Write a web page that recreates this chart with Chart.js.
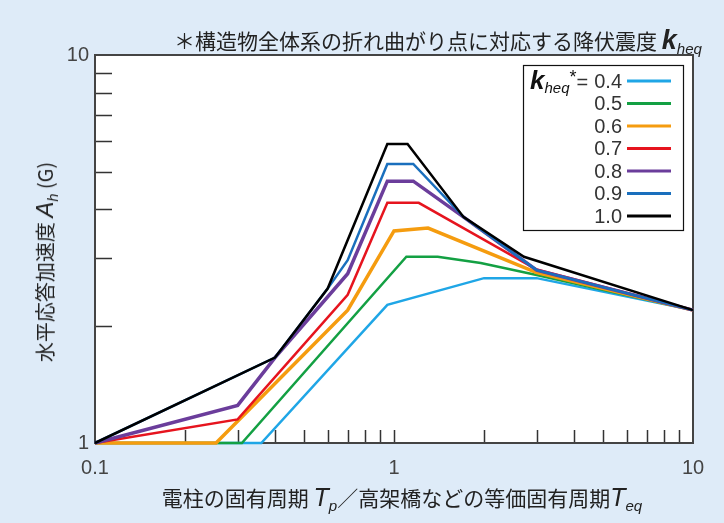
<!DOCTYPE html>
<html lang="ja">
<head>
<meta charset="utf-8">
<title>水平応答加速度</title>
<script src="https://cdn.jsdelivr.net/npm/chart.js@4.4.1/dist/chart.umd.min.js"></script>
<style>
  body { margin: 0; background: #deebf8; }
  #wrap { position: relative; width: 724px; height: 523px; overflow: hidden; background: #deebf8; }
  canvas { position: absolute; left: 0; top: 0; }
  .lbl { position: absolute; white-space: nowrap; font-family: "Noto Sans CJK JP", sans-serif; color: #222; line-height: 1; }
  .it { font-family: "Liberation Sans", Arial, sans-serif; font-style: italic; }
  sub { font-size: 0.72em; vertical-align: baseline; position: relative; top: 0.32em; }
  #title { right: 22px; top: 27px; font-size: 21px; }
  #title .k { font-size: 27px; font-weight: bold; }
  #ylab { left: 45px; top: 262px; font-size: 20px; transform: translate(-50%, -50%) rotate(-90deg); }
  #ylab .A { font-size: 24px; }
  #xlab { left: 402px; top: 497px; font-size: 21px; transform: translate(-50%, -50%); }
  #xlab .T { font-size: 25px; }
</style>
</head>
<body>
<div id="wrap">
  <canvas id="chart" width="724" height="523"></canvas>
  <div class="lbl" id="title">＊構造物全体系の折れ曲がり点に対応する降伏震度 <span class="it k">k</span><sub class="it">heq</sub></div>
  <div class="lbl" id="ylab">水平応答加速度 <span class="it A">A</span><sub class="it">h</sub> (G)</div>
  <div class="lbl" id="xlab">電柱の固有周期 <span class="it T">T</span><sub class="it">p</sub>／高架橋などの等価固有周期<span class="it T">T</span><sub class="it">eq</sub></div>
</div>

<script>
// k_heq values and styles
const kLabels = ['0.4', '0.5', '0.6', '0.7', '0.8', '0.9', '1.0'];
const lineColors = ['#1fa6e6', '#13a043', '#f59c0f', '#e6141e', '#6b3d9b', '#1a6fbd', '#000000'];
const lineWidths = [2.5, 2.5, 3.5, 2.5, 3.5, 2.5, 2.5];

// period T (s) / response acceleration Ah (G)
const period04 = [0.1, 0.36, 0.95, 2.0, 3.0, 10];
const accel04  = [1, 1, 2.27, 2.66, 2.66, 2.2];
const period05 = [0.1, 0.31, 1.1, 1.4, 1.95, 3.0, 10];
const accel05  = [1, 1, 3.02, 3.02, 2.91, 2.71, 2.2];
const period06 = [0.1, 0.254, 0.7, 1.0, 1.3, 3.0, 10];
const accel06  = [1, 1, 2.2, 3.52, 3.58, 2.75, 2.2];
const period07 = [0.1, 0.3, 0.7, 0.95, 1.21, 3.0, 10];
const accel07  = [1, 1.15, 2.41, 4.16, 4.16, 2.8, 2.2];
const period08 = [0.1, 0.3, 0.4, 0.7, 0.95, 1.16, 1.71, 3.0, 10];
const accel08  = [1, 1.25, 1.66, 2.73, 4.73, 4.73, 3.82, 2.79, 2.2];
const period09 = [0.1, 0.4, 0.6, 0.7, 0.95, 1.16, 1.71, 3.0, 10];
const accel09  = [1, 1.66, 2.5, 2.96, 5.24, 5.24, 3.82, 2.79, 2.2];
const period10 = [0.1, 0.4, 0.6, 0.95, 1.11, 1.71, 2.72, 10];
const accel10  = [1, 1.66, 2.5, 5.9, 5.9, 3.82, 3.02, 2.2];

const periodSets = [period04, period05, period06, period07, period08, period09, period10];
const accelSets = [accel04, accel05, accel06, accel07, accel08, accel09, accel10];

const xTickValues = [0.1, 1, 10];
const yTickValues = [1, 10];
const xMinorTicks = [0.2, 0.3, 0.4, 0.5, 0.6, 0.7, 0.8, 0.9, 1, 2, 3, 4, 5, 6, 7, 8, 9];
const yMinorTicks = [2, 3, 4, 5, 6, 7, 8, 9];

const datasets = kLabels.map((k, i) => ({
    label: k,
    data: periodSets[i].map((t, j) => ({ x: t, y: accelSets[i][j] })),
    borderColor: lineColors[i],
    borderWidth: lineWidths[i],
    pointRadius: 0,
    tension: 0,
    fill: false,
    clip: 3,
    order: kLabels.length - i
}));

// white plot area, inward minor ticks and frame under the lines; boxed legend on top
const framePlugin = {
    id: 'frame',
    beforeDatasetsDraw(chart) {
        const ca = chart.chartArea, ctx = chart.ctx;
        const xs = chart.scales.x, ys = chart.scales.y;
        ctx.save();
        ctx.fillStyle = '#ffffff';
        ctx.fillRect(ca.left, ca.top, ca.right - ca.left, ca.bottom - ca.top);

        ctx.strokeStyle = '#333';
        ctx.lineWidth = 1.5;
        ctx.beginPath();
        xMinorTicks.forEach(v => {
            const px = Math.round(xs.getPixelForValue(v)) + 0.5;
            ctx.moveTo(px, ca.bottom);
            ctx.lineTo(px, ca.bottom - 13);
        });
        yMinorTicks.forEach(v => {
            const py = Math.round(ys.getPixelForValue(v)) + 0.5;
            ctx.moveTo(ca.left, py);
            ctx.lineTo(ca.left + 17, py);
        });
        ctx.stroke();

        ctx.strokeStyle = '#444';
        ctx.lineWidth = 2;
        ctx.strokeRect(ca.left, ca.top, ca.right - ca.left, ca.bottom - ca.top);
        ctx.restore();
    },
    afterDatasetsDraw(chart) {
        const ca = chart.chartArea, ctx = chart.ctx;
        ctx.save();
        // legend
        const bx = ca.right - 170, by = ca.top + 10, bw = 160, bh = 165;
        ctx.fillStyle = '#fff';
        ctx.fillRect(bx, by, bw, bh);
        ctx.strokeStyle = '#111';
        ctx.lineWidth = 1.2;
        ctx.strokeRect(bx + 0.5, by + 0.5, bw, bh);

        chart.data.datasets.forEach((ds, i) => {
            const y = by + 16 + i * 22.5;
            ctx.font = '20px "Liberation Sans", Arial, sans-serif';
            ctx.fillStyle = '#333';
            ctx.textAlign = 'right';
            ctx.textBaseline = 'middle';
            ctx.fillText(ds.label, bx + 99, y + 1);
            ctx.strokeStyle = ds.borderColor;
            ctx.lineWidth = 3;
            ctx.beginPath();
            ctx.moveTo(bx + 104, y);
            ctx.lineTo(bx + 148, y);
            ctx.stroke();
        });

        // "k_heq*=" prefix on the first row
        let x = bx + 7;
        const base = by + 16 + 8;
        ctx.textAlign = 'left';
        ctx.textBaseline = 'alphabetic';
        ctx.fillStyle = '#111';
        ctx.font = 'italic bold 26px "Liberation Sans", Arial, sans-serif';
        ctx.fillText('k', x, base);
        x += ctx.measureText('k').width;
        ctx.font = 'italic 15px "Liberation Sans", Arial, sans-serif';
        ctx.fillText('heq', x, base + 4);
        x += ctx.measureText('heq').width;
        ctx.font = '18px "Liberation Sans", Arial, sans-serif';
        ctx.fillText('*', x, base - 6);
        x += ctx.measureText('*').width;
        ctx.font = '20px "Liberation Sans", Arial, sans-serif';
        ctx.fillStyle = '#333';
        ctx.fillText('=', x, base);
        ctx.restore();
    }
};

const tickFont = { family: '"Liberation Sans", Arial, sans-serif', size: 20 };

new Chart(document.getElementById('chart'), {
    type: 'line',
    data: { datasets: datasets },
    plugins: [framePlugin],
    options: {
        responsive: false,
        animation: false,
        devicePixelRatio: 1,
        layout: { padding: { top: 55, right: 31, left: 0, bottom: 0 } },
        plugins: {
            legend: { display: false },
            tooltip: { enabled: false },
            title: { display: false }
        },
        scales: {
            x: {
                type: 'logarithmic',
                min: 0.1,
                max: 10,
                grid: { display: false, drawTicks: false },
                border: { display: false },
                afterBuildTicks: s => { s.ticks = xTickValues.map(v => ({ value: v })); },
                afterFit: s => { s.height = 80; },
                ticks: {
                    autoSkip: false,
                    maxRotation: 0,
                    padding: 13,
                    color: '#444',
                    font: tickFont,
                    callback: v => String(v)
                }
            },
            y: {
                type: 'logarithmic',
                min: 1,
                max: 10,
                grid: { display: false, drawTicks: false },
                border: { display: false },
                afterBuildTicks: s => { s.ticks = yTickValues.map(v => ({ value: v })); },
                afterFit: s => { s.width = 95; },
                ticks: {
                    autoSkip: false,
                    padding: 6,
                    color: '#444',
                    font: tickFont,
                    callback: v => String(v)
                }
            }
        }
    }
});
</script>
</body>
</html>
